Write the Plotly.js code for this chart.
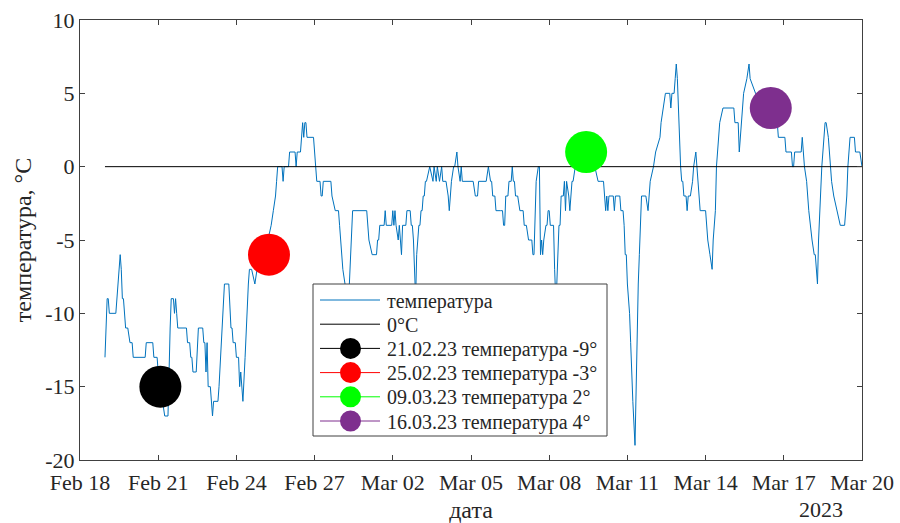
<!DOCTYPE html>
<html>
<head>
<meta charset="utf-8">
<script src="https://cdn.plot.ly/plotly-3.0.1.min.js"></script>
<style>
  html, body { margin: 0; padding: 0; background: #ffffff; }
  #chart { width: 900px; height: 523px; }
</style>
</head>
<body>
<div id="chart"></div>
<script>
// Hours counted from 2023-02-18 00:00
const hours = [
  23,24,25,26,27,33,34,36,37,38,39,40,42,44,46,48,49,60,61,67,68,71,72,74,76,78,81,82,83,84,86,87,88,89,90,
  98,99,101,102,103,104,107,108,109,113,114,115,116,117,118,120,121,122,123,127,128,130,132,133,137,138,139,140,141,143,144,146,147,148,149,150,152,153,154,155,156,158,161,163,166,170,173,176,178,180,181,182,186,187,188,192,193,198,199,200,203,204,205,206,207,208,209,215,216,217,218,221,222,223,224,231,232,235,238,239,240,241,242,244,246,248,249,250,251,
  264,265,266,269,273,274,275,276,280,281,282,287,288,289,290,291,293,294,295,296,297,300,301,304,305,306,307,308,309,310,311,312,313,314,315,316,317,318,319,322,325,326,328,329,331,333,334,337,339,340,341,342,344,345,347,348,350,351,352,
  362,364,366,367,374,376,378,379,380,382,383,387,389,390,391,392,394,395,397,398,399,400,401,403,405,408,409,411,413,416,417,418,419,420,422,423,424,425,426,427,429,430,431,432,433,436,437,438,439,440,441,442,443,445,446,447,448,450,451,453,454,456,460,465,470,474,477,479,
  482,483,484,485,486,487,491,492,493,497,498,500,501,502,503,504,506,507,508,509,511,512,513,514,515,516,517,521,523,524,525,528,530,534,535,537,539,543,544,545,547,548,549,550,551,552,553,554,555,556,558,559,560,562,564,565,567,568,569,571,576,577,578,580,582,583,585,586,587,588,589,592,
  602,603,606,607,609,611,614,616,617,622,628,636,642,643,649,650,655,656,657,658,664,665,666,667,669,671,674,676,677,679,680,681,683,684,686,687,689,691,692,694,697,700,704,706,707,709,713,714,718,720
];
const temps = [
  -13,-11,-9,-9,-10,-10,-9,-7,-6,-7,-9,-9,-11,-11,-12,-12,-13,-13,-12,-12,-13,-13,-14,-15,-16,-17,-17,-13,-11,-9,-9,-10,-9,-10,-11,
  -11,-12,-12,-13,-13,-14,-14,-12,-11,-11,-12,-12,-14,-12,-15,-15,-16,-17,-16,-16,-15,-12,-9,-8,-8,-10,-11,-11,-12,-12,-13,-13,-15,-14,-15,-16,-13,-11,-9,-8,-7,-7,-8,-7,-6,-6,-5,-4,-3,-2,-1,0,0,-1,0,0,1,1,0,1,1,2,3,2,3,3,2,2,1,0,-1,-1,-2,-2,-1,-1,-2,-3,-3,-4,-5,-6,-7,-8,-9,-8,-6,-4,-3,
  -3,-4,-5,-6,-6,-5,-5,-4,-4,-3,-4,-4,-3,-4,-3,-4,-5,-4,-5,-6,-4,-4,-3,-3,-4,-4,-5,-8,-9,-6,-5,-4,-4,-3,-3,-2,-2,-1,-1,0,-1,0,-1,0,-1,0,-1,-1,-2,-3,-2,-1,0,0,1,0,-1,0,-1,
  -1,-2,-2,-1,-1,0,-1,-1,-2,-2,-3,-3,-3,-4,-4,-2,-2,-1,-1,0,-1,-1,-2,-2,-3,-3,-4,-4,-5,-5,-6,-6,-3,-1,0,0,-6,-5,-6,-5,-4,-4,-3,-3,-4,-4,-7,-9,-8,-5,-4,-4,-2,-2,-1,-3,-1,-2,-3,-1,-1,0,1,1,0,0,-1,-1,
  -1,-2,-3,-2,-3,-2,-2,-3,-2,-2,-3,-3,-4,-6,-6,-8,-10,-12,-15,-16,-19,-15,-12,-8,-6,-4,-2,-2,-3,-2,-1,0,1,2,3,4,5,5,4,5,5,6,7,6,4,1,0,-1,-1,-2,-2,-3,-2,-2,-1,0,1,0,-1,-3,-3,-4,-5,-6,-7,-5,-3,0,1,2,3,4,
  4,3,3,1,3,5,6,7,6,5,4,3,3,2,2,1,1,0,0,1,1,2,1,0,-1,-3,-5,-6,-6,-8,-5,-3,0,1,3,3,2,0,-1,-2,-3,-4,-4,-2,0,2,2,1,1,0
];

// zero reference line
const zeroHours = [23, 720];
const zeroVals = [0, 0];

// highlighted days
const markHours = [74, 174, 466, 636];
const markVals = [-15, -6, 1, 4];
const markNames = [
  '21.02.23 температура -9°',
  '25.02.23 температура -3°',
  '09.03.23 температура 2°',
  '16.03.23 температура 4°'
];
const markColors = ['#000000', '#ff0000', '#00ff00', '#7e2f8e'];

const seriesName = 'температура';
const zeroName = '0°C';
const seriesColor = '#0072bd';
const zeroColor = '#000000';

const xTickHours = [0, 72, 144, 216, 288, 360, 432, 504, 576, 648, 720];
const xTickText = ['Feb 18', 'Feb 21', 'Feb 24', 'Feb 27', 'Mar 02', 'Mar 05', 'Mar 08', 'Mar 11', 'Mar 14', 'Mar 17', 'Mar 20'];
const yTickVals = [-20, -15, -10, -5, 0, 5, 10];
const yTickText = ['-20', '-15', '-10', '-5', '0', '5', '10'];

const base = Date.UTC(2023, 1, 18, 0, 0, 0);
function toDate(h) {
  return new Date(base + h * 3600000).toISOString().slice(0, 19).replace('T', ' ');
}

const FONT = '"Liberation Serif", "Times New Roman", serif';
const TXT = '#262626';
const AX = '#404040';

const traces = [
  {
    x: hours.map(toDate), y: temps, type: 'scatter', mode: 'lines',
    name: seriesName, line: { color: seriesColor, width: 1 }
  },
  {
    x: zeroHours.map(toDate), y: zeroVals, type: 'scatter', mode: 'lines',
    name: zeroName, line: { color: zeroColor, width: 1 }
  }
];
for (let i = 0; i < markHours.length; i++) {
  traces.push({
    x: [toDate(markHours[i])], y: [markVals[i]], type: 'scatter', mode: 'lines+markers',
    name: markNames[i],
    line: { color: markColors[i], width: 1 },
    marker: { color: markColors[i], size: 42, line: { width: 0 } }
  });
}

// ---- legend box (drawn with shapes + annotations to match the MATLAB legend spacing)
const M = { l: 80, r: 38, t: 20, b: 63 };
const W = 900, H = 523;
const PW = W - M.l - M.r, PH = H - M.t - M.b;
const px = v => (v - M.l) / PW;
const py = v => (H - M.b - v) / PH;

const legNames = [seriesName, zeroName].concat(markNames);
const legColors = [seriesColor, zeroColor].concat(markColors);
const legMarker = [false, false, true, true, true, true];

const shapes = [{
  type: 'rect', xref: 'paper', yref: 'paper', layer: 'above',
  x0: px(313), x1: px(607), y0: py(436), y1: py(284),
  fillcolor: '#ffffff', line: { color: AX, width: 1 }
}];
const annotations = [{
  text: '2023', xref: 'paper', yref: 'paper', x: px(821), y: py(509),
  xanchor: 'center', yanchor: 'middle', showarrow: false,
  font: { family: FONT, size: 22, color: TXT }
}];
for (let i = 0; i < legNames.length; i++) {
  const yc = 300 + 24.2 * i;
  shapes.push({
    type: 'line', xref: 'paper', yref: 'paper', layer: 'above',
    x0: px(320), x1: px(380), y0: py(yc), y1: py(yc),
    line: { color: legColors[i], width: 1 }
  });
  if (legMarker[i]) {
    shapes.push({
      type: 'circle', xref: 'paper', yref: 'paper', layer: 'above',
      xsizemode: 'pixel', ysizemode: 'pixel',
      xanchor: px(350.5), yanchor: py(yc),
      x0: -10.5, x1: 10.5, y0: -10.5, y1: 10.5,
      fillcolor: legColors[i], line: { width: 0 }
    });
  }
  annotations.push({
    text: legNames[i], xref: 'paper', yref: 'paper', x: px(385), y: py(yc + 1),
    xanchor: 'left', yanchor: 'middle', showarrow: false,
    font: { family: FONT, size: 20, color: TXT }
  });
}

const layout = {
  width: W, height: H,
  paper_bgcolor: '#ffffff', plot_bgcolor: '#ffffff',
  margin: M,
  font: { family: FONT, color: TXT, size: 22 },
  showlegend: false,
  xaxis: {
    type: 'date',
    range: [toDate(0), toDate(720)],
    tickvals: xTickHours.map(toDate), ticktext: xTickText,
    ticks: 'inside', ticklen: 5, tickcolor: AX, tickwidth: 1,
    ticklabelstandoff: 3,
    showline: true, linecolor: AX, linewidth: 1, mirror: 'ticks',
    showgrid: false, zeroline: false,
    tickfont: { family: FONT, size: 22, color: TXT },
    title: { text: 'дата', font: { family: FONT, size: 24, color: TXT }, standoff: 8 }
  },
  yaxis: {
    range: [-20, 10],
    tickvals: yTickVals, ticktext: yTickText,
    ticks: 'inside', ticklen: 5, tickcolor: AX, tickwidth: 1,
    showline: true, linecolor: AX, linewidth: 1, mirror: 'ticks',
    showgrid: false, zeroline: false,
    tickfont: { family: FONT, size: 22, color: TXT },
    title: { text: 'температура, °C', font: { family: FONT, size: 24, color: TXT }, standoff: 6 }
  },
  shapes: shapes,
  annotations: annotations
};

Plotly.newPlot('chart', traces, layout, { displayModeBar: false, staticPlot: true });
</script>
</body>
</html>
